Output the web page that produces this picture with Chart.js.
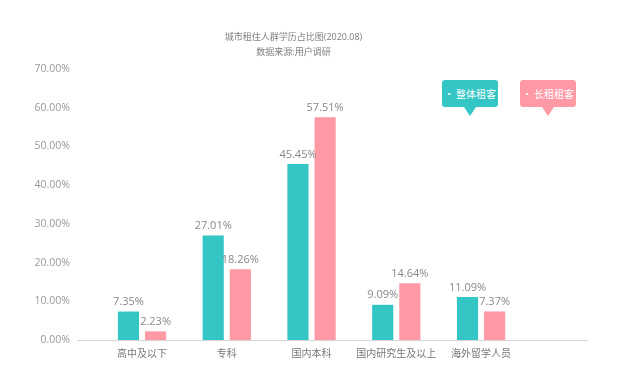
<!DOCTYPE html>
<html>
<head>
<meta charset="utf-8">
<script src="https://cdn.jsdelivr.net/npm/chart.js@4/dist/chart.umd.min.js"></script>
<style>
  body { margin: 0; background: #fff; }
  #wrap { position: relative; width: 630px; height: 372px; }
  .tag {
    position: absolute; top: 80px; height: 27px; width: 56px;
    border-radius: 3px; color: #fff; font: 10px "Noto Sans CJK SC", sans-serif;
    line-height: 27px; text-align: center; white-space: nowrap;
  }
  .tag::after {
    content: ""; position: absolute; left: 50%; bottom: -9px; margin-left: -6px;
    border-left: 6px solid transparent; border-right: 6px solid transparent;
    border-top: 9px solid var(--c);
  }
</style>
</head>
<body>
<div id="wrap">
  <canvas id="chart" width="630" height="372"></canvas>
  <div class="tag" style="left:442px; background:#33c6c4; --c:#33c6c4">• 整体租客</div>
  <div class="tag" style="left:520px; background:#ff99a6; --c:#ff99a6">• 长租租客</div>
</div>
<script>
const categories = ["高中及以下", "专科", "国内本科", "国内研究生及以上", "海外留学人员"];
const wholeRent = [7.35, 27.01, 45.45, 9.09, 11.09];
const longRent = [2.23, 18.26, 57.51, 14.64, 7.37];
const yTicks = [0, 10, 20, 30, 40, 50, 60, 70];

const fontFamily = '"Open Sans", "Noto Sans CJK SC", sans-serif';
const teal = "#33c6c4";
const pink = "#ff99a6";

// value labels above bars
const valueLabels = {
  id: "valueLabels",
  afterDatasetsDraw(chart) {
    const ctx = chart.ctx;
    ctx.save();
    ctx.font = "11px " + fontFamily;
    ctx.fillStyle = "#888";
    ctx.textAlign = "center";
    ctx.textBaseline = "bottom";
    chart.data.datasets.forEach((ds, i) => {
      chart.getDatasetMeta(i).data.forEach((bar, j) => {
        ctx.fillText(ds.data[j].y.toFixed(2) + "%", bar.x, bar.y - 4);
      });
    });
    ctx.restore();
  }
};

new Chart(document.getElementById("chart"), {
  type: "bar",
  data: {
    datasets: [
      {
        label: "整体租客",
        data: wholeRent.map((v, i) => ({ x: i, y: v })),
        backgroundColor: teal,
        categoryPercentage: 0.64,
        barPercentage: 0.78
      },
      {
        label: "长租租客",
        data: longRent.map((v, i) => ({ x: i, y: v })),
        backgroundColor: pink,
        categoryPercentage: 0.64,
        barPercentage: 0.78
      }
    ]
  },
  options: {
    responsive: false,
    animation: false,
    layout: { padding: { left: 0, right: 43, top: 0, bottom: 0 } },
    plugins: {
      legend: { display: false },
      tooltip: { enabled: false },
      title: {
        display: true,
        text: "城市租住人群学历占比图(2020.08)",
        color: "#808080",
        font: { family: fontFamily, size: 9, weight: "normal", lineHeight: 1.55 },
        padding: { top: 30, bottom: 0 }
      },
      subtitle: {
        display: true,
        text: "数据来源:用户调研",
        color: "#808080",
        font: { family: fontFamily, size: 9, weight: "normal", lineHeight: 1.55 },
        padding: { top: 2, bottom: 9 }
      }
    },
    scales: {
      x: {
        type: "linear",
        offset: false,
        bounds: "data",
        min: -0.767,
        max: 5.25,
        grid: { display: false, drawTicks: false },
        border: { display: true, color: "#d6d6d6", width: 1 },
        afterBuildTicks: (scale) => {
          scale.ticks = categories.map((c, i) => ({ value: i }));
        },
        afterFit: (scale) => { scale.height = 32; },
        ticks: {
          autoSkip: false,
          maxRotation: 0,
          padding: 8,
          color: "#777",
          font: { family: fontFamily, size: 10 },
          callback: (v) => categories[v]
        }
      },
      y: {
        min: 0,
        max: 70,
        grid: { display: false, drawTicks: false },
        border: { display: false },
        afterBuildTicks: (scale) => {
          scale.ticks = yTicks.map(v => ({ value: v }));
        },
        afterFit: (scale) => { scale.width = 77; },
        ticks: {
          padding: 7,
          color: "#999",
          font: { family: fontFamily, size: 10.5 },
          callback: (v) => v.toFixed(2) + "%"
        }
      }
    }
  },
  plugins: [valueLabels]
});
</script>
</body>
</html>
